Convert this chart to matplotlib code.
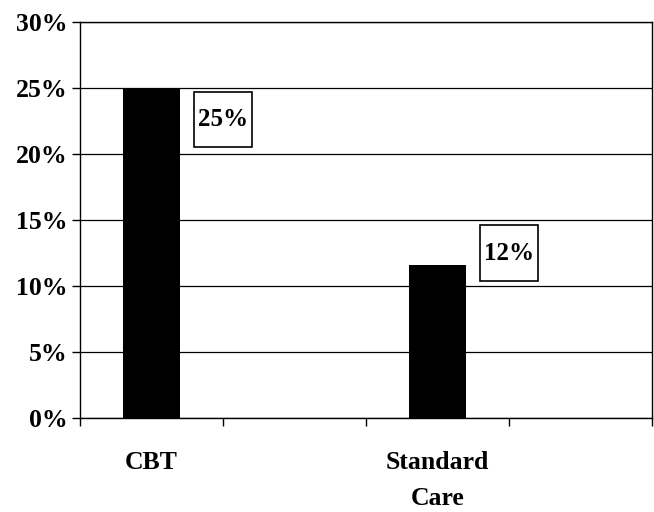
import matplotlib.pyplot as plt
from matplotlib.patches import Rectangle

# datos del grafico
grupos = ["CBT", "Standard\nCare"]
valores = [25.0, 11.6]
etiquetas = ["25%", "12%"]
ticks_y = [0, 5, 10, 15, 20, 25, 30]

plt.rcParams['font.family'] = ['Liberation Serif', 'DejaVu Serif']
plt.rcParams['font.weight'] = 'bold'

fig = plt.figure(figsize=(6.54, 5.12), dpi=100)
ax = fig.add_axes([0.1223, 0.1836, 0.8747, 0.7734])

# cada grupo ocupa una casilla, con una casilla vacia entre ellos
posiciones = [0.5 + 2 * i for i in range(len(grupos))]
ax.bar(posiciones, valores, width=0.4, color='black', zorder=3)

ax.set_xlim(0, 4)
ax.set_ylim(0, 30)
ax.set_yticks(ticks_y)
ax.set_yticklabels([f"{t}%" for t in ticks_y], fontsize=18.5, fontweight='bold')
ax.set_xticks([0, 1, 2, 3, 4])
ax.set_xticklabels([])
ax.tick_params(axis='both', direction='out', length=6, width=1, color='black')
ax.tick_params(axis='y', pad=3)
ax.grid(axis='y', color='black', linewidth=0.9, zorder=0)

for lado in ['left', 'bottom', 'top', 'right']:
    ax.spines[lado].set_color('black')
    ax.spines[lado].set_linewidth(1)

# nombres de grupo debajo del eje
for x, nombre in zip(posiciones, grupos):
    ax.text(x, -2.5, nombre, ha='center', va='top', fontsize=18.5,
            fontweight='bold', linespacing=1.7)

# etiquetas con recuadro a la derecha de cada barra
desplaz_y = [-2.4, 0.9]
for x, v, txt, dy in zip(posiciones, valores, etiquetas, desplaz_y):
    cx = x + 0.5
    cy = v + dy
    ax.add_patch(Rectangle((cx - 0.2, cy - 2.1), 0.4, 4.2, facecolor='white',
                           edgecolor='black', linewidth=1.2, zorder=4))
    ax.text(cx, cy, txt, ha='center', va='center', fontsize=18,
            fontweight='bold', zorder=5)

fig.savefig('out.png', dpi=100)
